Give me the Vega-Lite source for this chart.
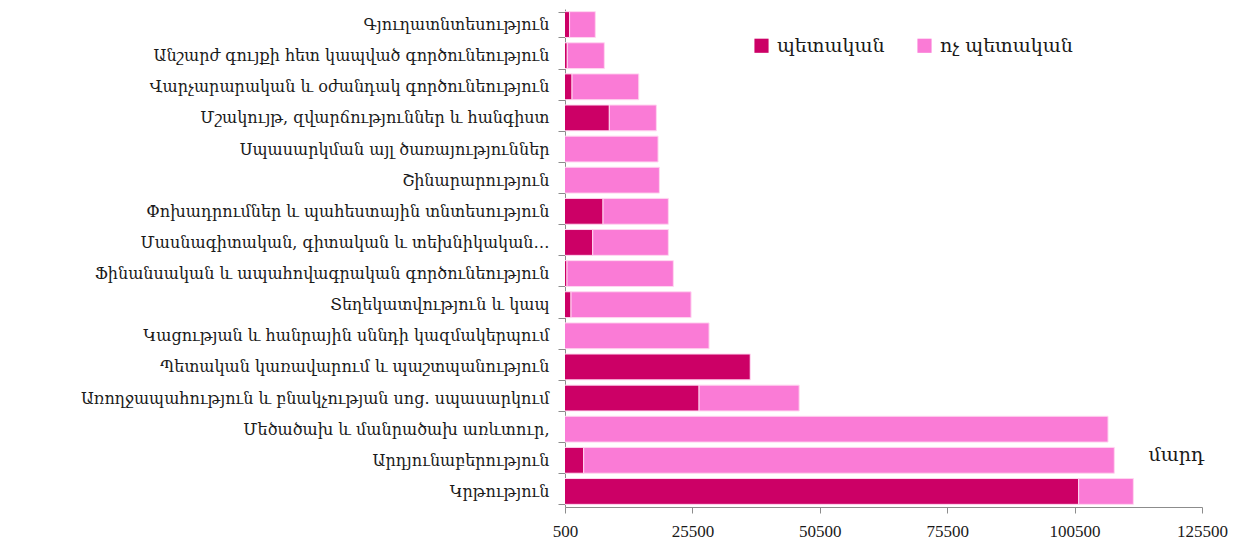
{
  "$schema": "https://vega.github.io/schema/vega-lite/v6.json",
  "width": 637,
  "height": 498,
  "autosize": "none",
  "padding": {"left": 565, "top": 9, "right": 43, "bottom": 44},
  "background": "white",
  "config": {"view": {"stroke": null}},
  "datasets": {
    "bars": [
      {"cat": "Գյուղատնտեսություն", "type": "պետական", "value": 1400},
      {"cat": "Գյուղատնտեսություն", "type": "ոչ պետական", "value": 5050},
      {"cat": "Անշարժ գույքի հետ կապված գործունեություն", "type": "պետական", "value": 950},
      {"cat": "Անշարժ գույքի հետ կապված գործունեություն", "type": "ոչ պետական", "value": 7270},
      {"cat": "Վարչարարական և օժանդակ գործունեություն", "type": "պետական", "value": 1880},
      {"cat": "Վարչարարական և օժանդակ գործունեություն", "type": "ոչ պետական", "value": 13100},
      {"cat": "Մշակույթ, զվարճություններ և հանգիստ ", "type": "պետական", "value": 9200},
      {"cat": "Մշակույթ, զվարճություններ և հանգիստ ", "type": "ոչ պետական", "value": 9230},
      {"cat": "Սպասարկման այլ ծառայություններ", "type": "պետական", "value": 300},
      {"cat": "Սպասարկման այլ ծառայություններ", "type": "ոչ պետական", "value": 18460},
      {"cat": "Շինարարություն", "type": "պետական", "value": 300},
      {"cat": "Շինարարություն", "type": "ոչ պետական", "value": 18720},
      {"cat": "Փոխադրումներ և պահեստային տնտեսություն", "type": "պետական", "value": 7960},
      {"cat": "Փոխադրումներ և պահեստային տնտեսություն", "type": "ոչ պետական", "value": 12820},
      {"cat": "Մասնագիտական, գիտական և տեխնիկական…", "type": "պետական", "value": 5940},
      {"cat": "Մասնագիտական, գիտական և տեխնիկական…", "type": "ոչ պետական", "value": 14840},
      {"cat": "Ֆինանսական և ապահովագրական գործունեություն ", "type": "պետական", "value": 890},
      {"cat": "Ֆինանսական և ապահովագրական գործունեություն ", "type": "ոչ պետական", "value": 20870},
      {"cat": "Տեղեկատվություն և կապ", "type": "պետական", "value": 1680},
      {"cat": "Տեղեկատվություն և կապ", "type": "ոչ պետական", "value": 23560},
      {"cat": "Կացության և հանրային սննդի կազմակերպում", "type": "պետական", "value": 300},
      {"cat": "Կացության և հանրային սննդի կազմակերպում", "type": "ոչ պետական", "value": 28470},
      {"cat": "Պետական  կառավարում և պաշտպանություն", "type": "պետական", "value": 36880},
      {"cat": "Պետական  կառավարում և պաշտպանություն", "type": "ոչ պետական", "value": 0},
      {"cat": "Առողջապահություն և բնակչության սոց. սպասարկում", "type": "պետական", "value": 26810},
      {"cat": "Առողջապահություն և բնակչության սոց. սպասարկում", "type": "ոչ պետական", "value": 19640},
      {"cat": "Մեծածախ և մանրածախ առևտուր, ", "type": "պետական", "value": 300},
      {"cat": "Մեծածախ և մանրածախ առևտուր, ", "type": "ոչ պետական", "value": 106760},
      {"cat": "Արդյունաբերություն", "type": "պետական", "value": 4170},
      {"cat": "Արդյունաբերություն", "type": "ոչ պետական", "value": 104120},
      {"cat": "Կրթություն", "type": "պետական", "value": 101290},
      {"cat": "Կրթություն", "type": "ոչ պետական", "value": 10740}
    ],
    "note": [
      {"cat": "Արդյունաբերություն", "x": 115000, "label": "մարդ"}
    ]
  },
  "layer": [
    {
      "data": {"name": "bars"},
      "mark": {"type": "bar", "clip": true, "stroke": "#FFD6F0", "strokeWidth": 1},
      "encoding": {
        "y": {
          "field": "cat",
          "type": "nominal",
          "sort": null,
          "scale": {
            "domain": [
              "Գյուղատնտեսություն",
              "Անշարժ գույքի հետ կապված գործունեություն",
              "Վարչարարական և օժանդակ գործունեություն",
              "Մշակույթ, զվարճություններ և հանգիստ ",
              "Սպասարկման այլ ծառայություններ",
              "Շինարարություն",
              "Փոխադրումներ և պահեստային տնտեսություն",
              "Մասնագիտական, գիտական և տեխնիկական…",
              "Ֆինանսական և ապահովագրական գործունեություն ",
              "Տեղեկատվություն և կապ",
              "Կացության և հանրային սննդի կազմակերպում",
              "Պետական  կառավարում և պաշտպանություն",
              "Առողջապահություն և բնակչության սոց. սպասարկում",
              "Մեծածախ և մանրածախ առևտուր, ",
              "Արդյունաբերություն",
              "Կրթություն"
            ],
            "paddingInner": 0.17,
            "paddingOuter": 0.085
          },
          "axis": {
            "title": null,
            "tickBand": "extent",
            "tickSize": 7,
            "tickColor": "#8C8C8C",
            "domainColor": "#8C8C8C",
            "labelPadding": 9,
            "labelFont": "DejaVu Serif",
            "labelFontSize": 16,
            "labelColor": "#1a1a1a",
            "labelLimit": 600
          }
        },
        "x": {
          "field": "value",
          "type": "quantitative",
          "stack": "zero",
          "scale": {"domain": [500, 125500], "nice": false, "zero": false},
          "axis": {
            "title": null,
            "values": [500, 25500, 50500, 75500, 100500, 125500],
            "grid": false,
            "tickSize": 6,
            "tickColor": "#8C8C8C",
            "domainColor": "#8C8C8C",
            "labelPadding": 10,
            "labelFont": "Liberation Serif",
            "labelFontSize": 17,
            "labelColor": "#1a1a1a",
            "labelFlush": false,
            "format": "d"
          }
        },
        "color": {
          "field": "type",
          "type": "nominal",
          "scale": {"domain": ["պետական", "ոչ պետական"], "range": ["#CC0066", "#FA7BD6"]},
          "legend": {
            "title": null,
            "orient": "none",
            "legendX": 187,
            "legendY": 27,
            "direction": "horizontal",
            "symbolType": "square",
            "symbolSize": 200,
            "symbolStrokeWidth": 0,
            "labelFont": "DejaVu Serif",
            "labelFontSize": 19,
            "labelColor": "#1a1a1a",
            "columnPadding": 30,
            "labelOffset": 6
          }
        },
        "order": {"field": "type", "sort": "descending"}
      }
    },
    {
      "data": {"name": "note"},
      "mark": {"type": "text", "align": "left", "baseline": "middle", "font": "DejaVu Serif", "fontSize": 19, "color": "#1a1a1a", "dy": -5},
      "encoding": {
        "y": {"field": "cat", "type": "nominal", "sort": null},
        "x": {"field": "x", "type": "quantitative"},
        "text": {"field": "label"}
      }
    }
  ]
}
